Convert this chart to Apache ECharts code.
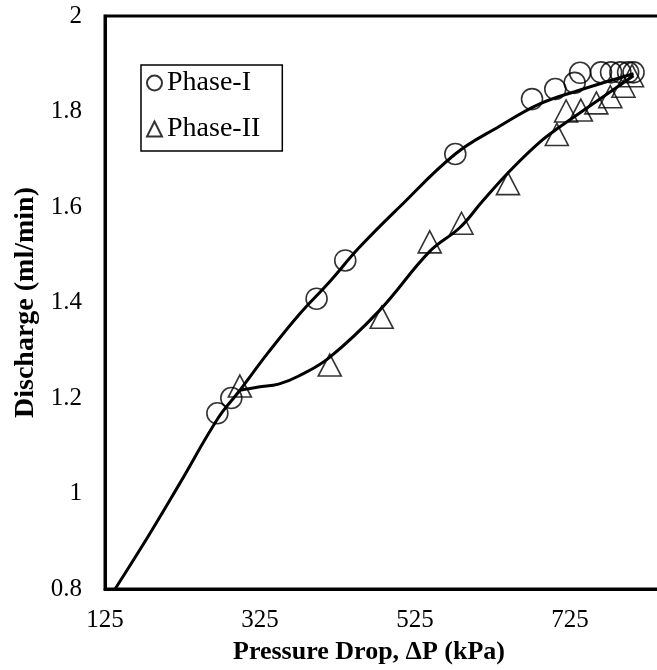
<!DOCTYPE html>
<html>
<head>
<meta charset="utf-8">
<script src="https://cdn.jsdelivr.net/npm/echarts@6/dist/echarts.min.js"></script>
<style>
html,body{margin:0;padding:0;background:#fff;}
#chart{width:657px;height:670px;}
</style>
</head>
<body>
<div id="chart"></div>
<script>
// Phase-I measured points [pressure drop kPa, discharge ml/min]
const phase1Pressure = [270, 288, 398, 435, 577, 676, 706, 731, 738, 765, 778, 790, 800, 807];
const phase1Discharge = [1.168, 1.200, 1.408, 1.488, 1.711, 1.826, 1.847, 1.860, 1.881, 1.882, 1.882, 1.882, 1.882, 1.882];
// Phase-II measured points
const phase2Pressure = [299, 415, 482, 544, 585, 645, 708, 720, 739, 759, 777, 794, 805];
const phase2Discharge = [1.225, 1.269, 1.369, 1.527, 1.566, 1.649, 1.752, 1.801, 1.803, 1.818, 1.831, 1.853, 1.875];
// Fitted curves
const curve1Pressure = [138, 181, 220, 271, 297, 336, 375, 414, 453, 505, 577, 634, 686, 738, 807];
const curve1Discharge = [0.800, 0.911, 1.017, 1.158, 1.212, 1.296, 1.374, 1.442, 1.515, 1.600, 1.711, 1.769, 1.816, 1.845, 1.879];
const curve2Pressure = [299, 323, 349, 375, 414, 479, 544, 583, 612, 647, 686, 712, 751, 807];
const curve2Discharge = [1.216, 1.223, 1.229, 1.246, 1.284, 1.383, 1.507, 1.557, 1.612, 1.675, 1.736, 1.768, 1.812, 1.875];
// Axis ticks
const xMin = 125, xMax = 925, xStep = 200;
const yMin = 0.8, yMax = 2, yStep = 0.2;

const zip = (a, b) => a.map((v, i) => [v, b[i]]);
const serif = '"Liberation Serif", "Times New Roman", serif';

const chart = echarts.init(document.getElementById('chart'));
chart.setOption({
  backgroundColor: '#ffffff',
  animation: false,
  title: {
    text: 'Pressure Drop, \u0394P (kPa)',
    left: 228, top: 634,
    textStyle: {fontFamily: serif, fontWeight: 'bold', fontSize: 26, color: '#000'}
  },
  grid: {
    left: 105, top: 16, height: 573, width: 620,
    outerBoundsMode: 'none', containLabel: false,
    show: true, borderColor: '#000', borderWidth: 3, backgroundColor: 'transparent'
  },
  legend: {
    left: 141, top: 65,
    orient: 'vertical',
    data: ['Phase-I', 'Phase-II'],
    borderColor: '#000', borderWidth: 1.5,
    padding: [4, 22, 8, 5],
    itemGap: 18,
    itemWidth: 15, itemHeight: 15,
    textStyle: {fontFamily: serif, fontSize: 28, color: '#000'}
  },
  xAxis: {
    type: 'value', min: xMin, max: xMax, interval: xStep,
    axisLine: {show: true, lineStyle: {color: '#000', width: 3}},
    axisTick: {show: false},
    splitLine: {show: false},
    axisLabel: {fontFamily: serif, fontSize: 25, color: '#000', margin: 19}
  },
  yAxis: {
    type: 'value', min: yMin, max: yMax, interval: yStep,
    name: 'Discharge (ml/min)', nameLocation: 'middle', nameGap: 60, nameRotate: 90,
    nameTextStyle: {fontFamily: serif, fontWeight: 'bold', fontSize: 28, color: '#000'},
    axisLine: {show: true, lineStyle: {color: '#000', width: 3}},
    axisTick: {show: false},
    splitLine: {show: false},
    axisLabel: {fontFamily: serif, fontSize: 25, color: '#000', margin: 23}
  },
  series: [
    {
      name: 'curve1', type: 'line', data: zip(curve1Pressure, curve1Discharge),
      showSymbol: false, smooth: 0.4, silent: true,
      lineStyle: {color: '#000', width: 3}
    },
    {
      name: 'curve2', type: 'line', data: zip(curve2Pressure, curve2Discharge),
      showSymbol: false, smooth: 0.4, silent: true,
      lineStyle: {color: '#000', width: 3}
    },
    {
      name: 'Phase-I', type: 'scatter', data: zip(phase1Pressure, phase1Discharge),
      symbol: 'circle', symbolSize: 21,
      itemStyle: {color: 'rgba(0,0,0,0)', borderColor: '#000', borderWidth: 1.6}
    },
    {
      name: 'Phase-II', type: 'scatter', data: zip(phase2Pressure, phase2Discharge),
      symbol: 'triangle', symbolSize: [23, 22],
      itemStyle: {color: 'rgba(0,0,0,0)', borderColor: '#000', borderWidth: 1.6}
    }
  ]
});
</script>
</body>
</html>
